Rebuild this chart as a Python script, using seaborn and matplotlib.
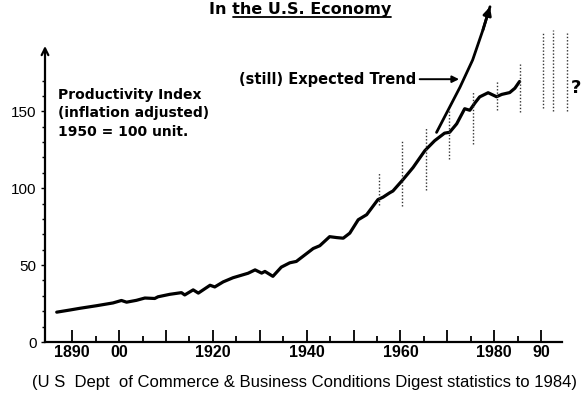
import matplotlib
matplotlib.use("Agg")
import matplotlib.pyplot as plt
from matplotlib.lines import Line2D
from matplotlib.ticker import FixedLocator, FixedFormatter
import seaborn as sns
import pandas as pd

# ---- data ----
years = [1886.7, 1889.5, 1891.6, 1895.2, 1898.7, 1900.5, 1901.6, 1903.7, 1905.5,
         1907.6, 1908.3, 1910.8, 1913.3, 1914.0, 1915.8, 1916.9, 1919.4, 1920.4,
         1922.2, 1924.3, 1927.5, 1929.0, 1930.4, 1931.1, 1932.8, 1934.6, 1936.4,
         1937.8, 1941.4, 1942.8, 1944.9, 1946.4, 1947.8, 1949.2, 1951.0, 1952.8,
         1955.2, 1956.3, 1957.7, 1958.4, 1960.6, 1962.7, 1965.2, 1967.3, 1969.4,
         1970.5, 1972.0, 1973.7, 1974.8, 1975.9, 1976.9, 1978.7, 1980.5, 1981.6,
         1983.3, 1984.4, 1985.4]
index_values = [19.4, 20.8, 21.9, 23.6, 25.4, 27.0, 25.9, 27.1, 28.6, 28.3, 29.4,
                31.0, 32.1, 30.6, 33.9, 31.8, 36.9, 35.8, 39.1, 41.8, 44.7, 46.9,
                44.8, 45.9, 42.7, 48.7, 51.5, 52.4, 60.8, 62.6, 68.5, 67.9, 67.5,
                70.8, 79.5, 82.8, 92.6, 94.2, 97.0, 98.2, 105.8, 113.5, 124.4,
                130.9, 135.8, 136.4, 141.9, 151.7, 150.7, 155.5, 159.4, 162.1,
                159.5, 161.0, 162.2, 165.0, 169.4]

trend_years = [1967.7, 1972.7, 1975.4, 1977.6, 1979.1]
trend_values = [136.3, 165.7, 183.4, 203.0, 218.0]

range_years = [1955.4, 1960.4, 1965.4, 1970.4, 1975.4, 1980.5, 1985.5, 1990.5, 1992.6, 1995.6]
range_low = [89.1, 88.7, 98.6, 118.9, 128.8, 151.0, 149.8, 152.0, 150.0, 150.2]
range_high = [110.0, 130.9, 138.9, 150.1, 162.6, 170.4, 181.1, 200.8, 202.7, 201.0]

x_major = [1890, 1900, 1910, 1920, 1930, 1940, 1950, 1960, 1970, 1980, 1990]
x_labels = ["1890", "00", "", "1920", "", "1940", "", "1960", "", "1980", "90"]
x_minor = [1895, 1905, 1915, 1925, 1935, 1945, 1955, 1965, 1975, 1985]
y_major = [0, 50, 100, 150]
y_minor = [10, 20, 30, 40, 60, 70, 80, 90, 110, 120, 130, 140, 160, 170]

title = "In the U.S. Economy"
caption = "(U S  Dept  of Commerce & Business Conditions Digest statistics to 1984)"
label_lines = "Productivity Index\n(inflation adjusted)\n1950 = 100 unit."
trend_label = "(still) Expected Trend"

# ---- plotting ----
sns.set_style("white")
plt.rcParams["font.family"] = ["DejaVu Sans"]
plt.rcParams["text.color"] = "black"
plt.rcParams["xtick.color"] = "black"
plt.rcParams["ytick.color"] = "black"

W, H = 588, 401
fig = plt.figure(figsize=(W / 100, H / 100), dpi=100)
ax = fig.add_axes([45 / W, 59 / H, (W - 45) / W, 342 / H])
ax.set_xlim(1884.2, 2000.0)
ax.set_ylim(0, 222.4)

df = pd.DataFrame({"year": years, "index": index_values})
sns.lineplot(data=df, x="year", y="index", ax=ax, color="black", lw=2.3,
             sort=False, estimator=None)

tdf = pd.DataFrame({"year": trend_years, "value": trend_values})
sns.lineplot(data=tdf, x="year", y="value", ax=ax, color="black", lw=2.0,
             sort=False, estimator=None)
for l in ax.lines:
    l.set_clip_on(False)
ax.annotate("", xy=(trend_years[-1], trend_values[-1]),
            xytext=(trend_years[-2], trend_values[-2]),
            arrowprops=dict(arrowstyle="-|>", color="black", lw=2.0,
                            mutation_scale=12, shrinkA=0, shrinkB=0),
            annotation_clip=False)

ax.vlines(range_years, range_low, range_high, colors="0.2",
          linestyles=(0, (1, 1.4)), lw=1.0, clip_on=False)

# axes styling
for s in ["top", "right", "left"]:
    ax.spines[s].set_visible(False)
ax.spines["bottom"].set_bounds(1884.2, 1994.4)
ax.spines["bottom"].set_linewidth(1.6)
ax.spines["bottom"].set_color("black")
ax.annotate("", xy=(1884.2, 192.5), xytext=(1884.2, 0),
            arrowprops=dict(arrowstyle="->", color="black", lw=1.6,
                            mutation_scale=12, shrinkA=0, shrinkB=0),
            annotation_clip=False)

ax.xaxis.set_major_locator(FixedLocator(x_major))
ax.xaxis.set_major_formatter(FixedFormatter(x_labels))
ax.xaxis.set_minor_locator(FixedLocator(x_minor))
ax.tick_params(axis="x", which="major", direction="in", length=9, width=1.3,
               pad=2, labelsize=11.5, bottom=True)
ax.tick_params(axis="x", which="minor", direction="in", length=4, width=1.3,
               bottom=True)
ax.yaxis.set_major_locator(FixedLocator(y_major))
ax.yaxis.set_minor_locator(FixedLocator(y_minor))
ax.tick_params(axis="y", which="major", direction="out", length=3, width=1.0,
               pad=3, labelsize=11, left=True)
ax.tick_params(axis="y", which="minor", direction="out", length=2, width=1.0,
               left=True)
ax.set_xlabel("")
ax.set_ylabel("")
for t in ax.get_xticklabels() + ax.get_yticklabels():
    t.set_fontfamily(["Liberation Sans", "DejaVu Sans"])
for t in ax.get_xticklabels():
    t.set_fontweight("bold")

# texts
ax.text(1887.0, 165.0, label_lines, ha="left", va="top", fontsize=10,
        fontweight="bold", linespacing=1.38)
ax.text(1963.3, 170.9, trend_label, ha="right", va="center", fontsize=10.5,
        fontweight="bold")
ax.annotate("", xy=(1972.5, 170.9), xytext=(1964.1, 170.9),
            arrowprops=dict(arrowstyle="-|>", color="black", lw=1.4,
                            mutation_scale=10, shrinkA=0, shrinkB=0),
            annotation_clip=False)
ax.text(1997.5, 165.4, "?", ha="center", va="center", fontsize=13,
        fontweight="bold")

fig.text(300 / W, 1 - 14 / H, title, ha="center", va="baseline", fontsize=11.5,
         fontweight="bold")
fig.add_artist(Line2D([233 / W, 391 / W], [1 - 17 / H, 1 - 17 / H],
                      color="black", lw=1.3, transform=fig.transFigure))
fig.text(305 / W, 1 - 383 / H, caption, ha="center", va="center", fontsize=12,
         family=["Liberation Sans", "DejaVu Sans"])

fig.savefig("out.png", dpi=100)
